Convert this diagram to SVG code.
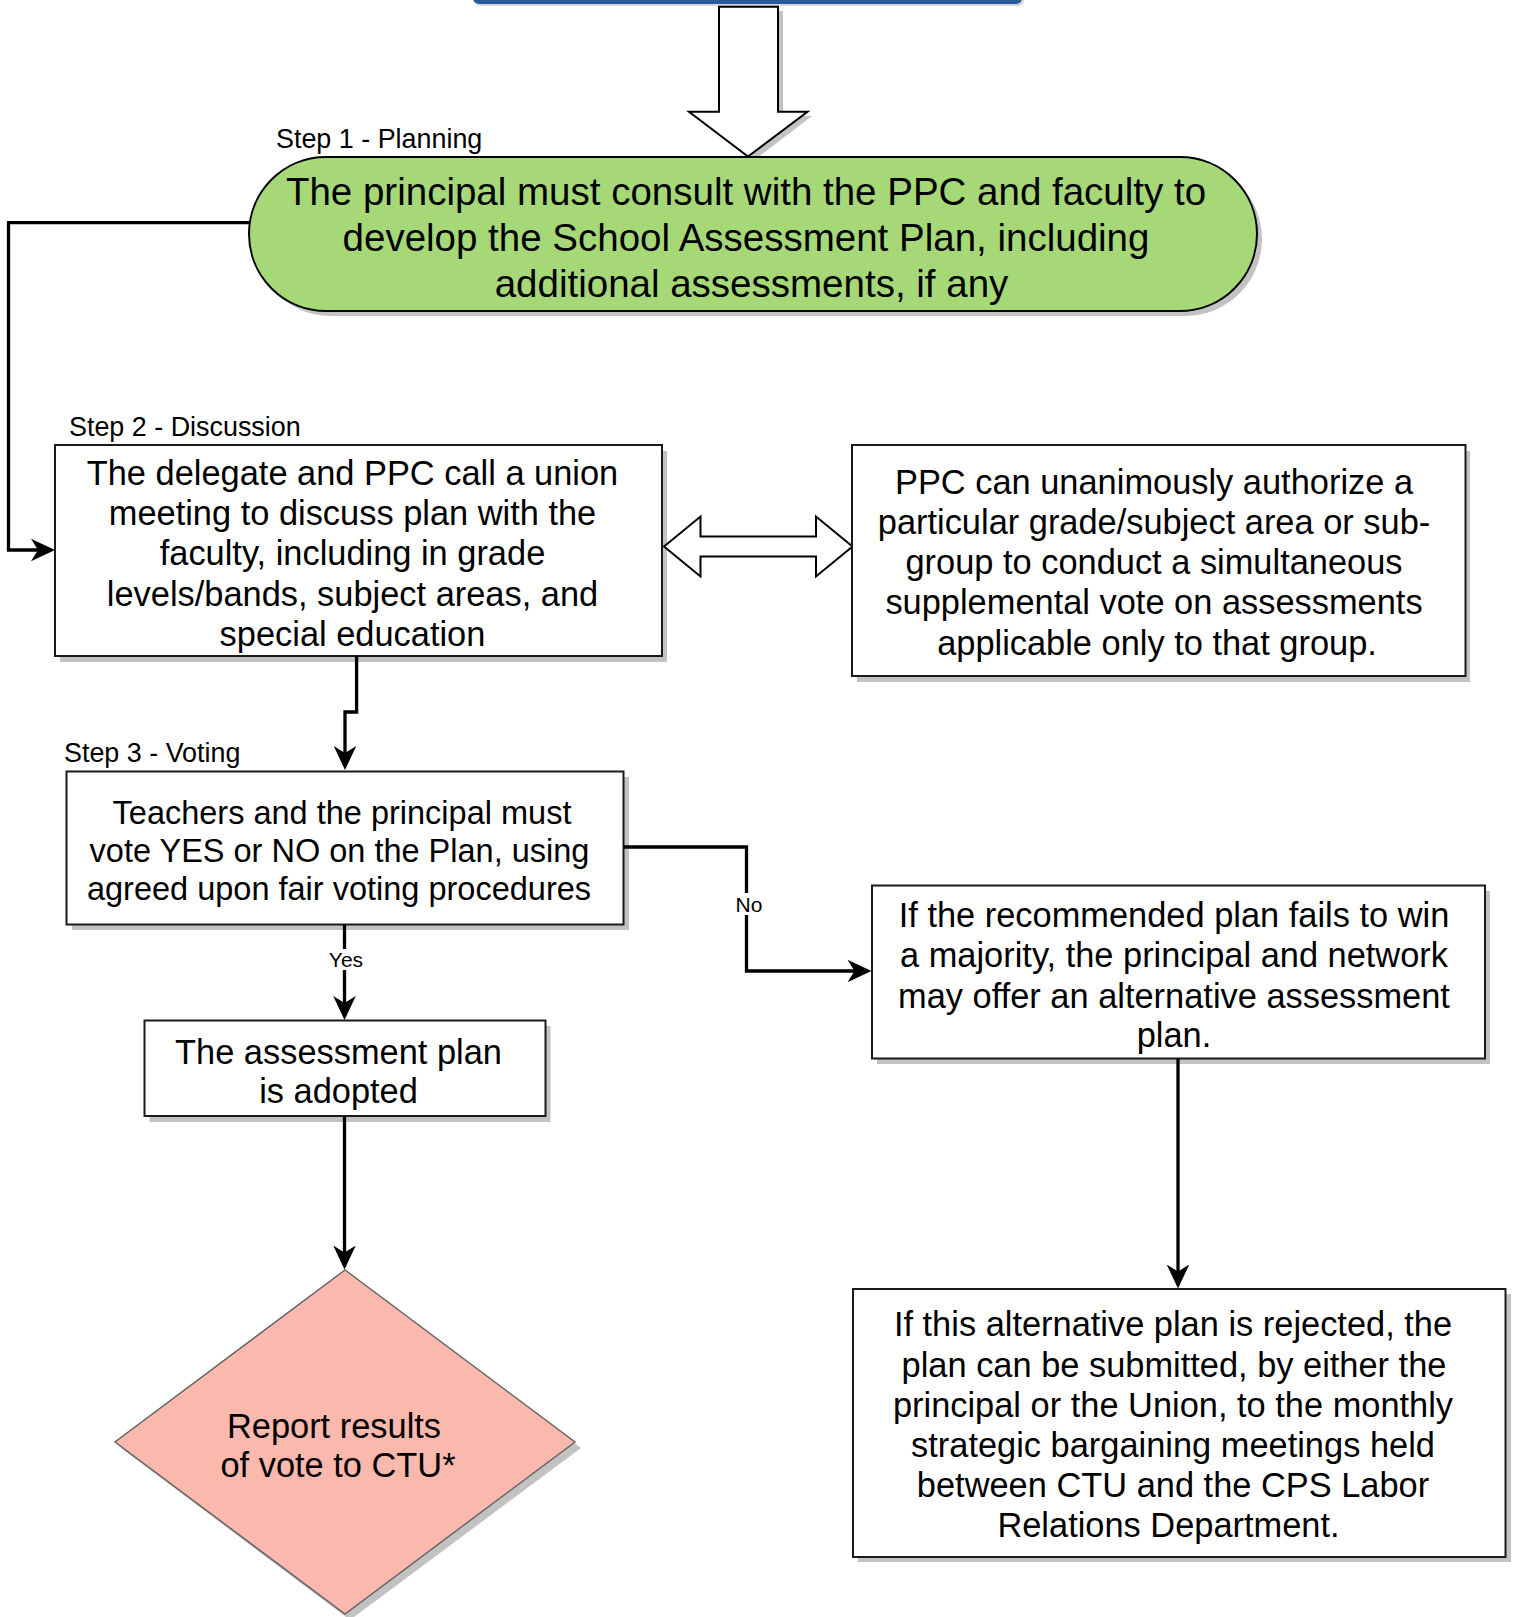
<svg xmlns="http://www.w3.org/2000/svg" width="1515" height="1617" viewBox="0 0 1515 1617">
<style>
text{font-family:"Liberation Sans",Arial,Helvetica,sans-serif;fill:#000;text-anchor:middle}
.lbl{font-size:26.9px;text-anchor:start}
.t34{font-size:34.4px}
.t38{font-size:38.5px}
.t32{font-size:32.5px}
.edge{font-size:21px}
.box{fill:#fff;stroke:#1a1a1a;stroke-width:2}
.sh{fill:#c2c2c2;stroke:none}
.con{fill:none;stroke:#000;stroke-width:3.3}
.blk{fill:#fff;stroke:#000;stroke-width:2;stroke-linejoin:miter}
</style>
<defs>
<marker id="arr" markerUnits="userSpaceOnUse" viewBox="0 0 24 24" markerWidth="24" markerHeight="24" refX="20" refY="12" orient="auto">
<path d="M24,12 L0,0.7 L7,12 L0,23.3 Z" fill="#000"/>
</marker>
</defs>

<g id="top-bar">
<rect x="475" y="-12" width="549" height="18" rx="6" fill="#d6d6d6"/>
<rect x="473" y="-14" width="549" height="18" rx="6" fill="#2a5a9a"/>
</g>

<g id="down-arrow">
<polygon class="sh" points="724,11 783,11 783,116 812,116 753,161 694,116 724,116"/>
<polygon class="blk" points="719,6.7 778,6.7 778,111.7 807.5,111.7 748,156.5 689,111.7 719,111.7"/>
</g>

<g id="step1">
<text class="lbl" x="276" y="148">Step 1 - Planning</text>
<rect class="sh" x="254" y="162" width="1008" height="154" rx="77"/>
<rect x="249" y="157" width="1008" height="154" rx="77" fill="#a6d877" stroke="#000" stroke-width="2"/>
<text class="t38" x="746" y="205">The principal must consult with the PPC and faculty to</text>
<text class="t38" x="746" y="251">develop the School Assessment Plan, including</text>
<text class="t38" x="751.5" y="297">additional assessments, if any</text>
</g>

<g id="step2">
<text class="lbl" x="69" y="436">Step 2 - Discussion</text>
<rect class="sh" x="60" y="451" width="607" height="211"/>
<rect class="box" x="55" y="445" width="607" height="211"/>
<text class="t34" x="352.5" y="485">The delegate and PPC call a union</text>
<text class="t34" x="352.5" y="525">meeting to discuss plan with the</text>
<text class="t34" x="352.5" y="565">faculty, including in grade</text>
<text class="t34" x="352.5" y="605.5">levels/bands, subject areas, and</text>
<text class="t34" x="352.5" y="645.5">special education</text>
</g>

<g id="double-arrow">
<polygon class="blk" points="664,546.5 700.5,516.5 700.5,536.5 816,536.5 816,516.5 852.5,546.5 816,576.5 816,556.5 700.5,556.5 700.5,576.5"/>
</g>

<g id="ppc-box">
<rect class="sh" x="857" y="451" width="613" height="231"/>
<rect class="box" x="852" y="445" width="613.5" height="231"/>
<text class="t34" x="1154" y="493.5">PPC can unanimously authorize a</text>
<text class="t34" x="1154" y="534">particular grade/subject area or sub-</text>
<text class="t34" x="1154" y="574">group to conduct a simultaneous</text>
<text class="t34" x="1154" y="614">supplemental vote on assessments</text>
<text class="t34" x="1157" y="654.5">applicable only to that group.</text>
</g>

<g id="step3">
<text class="lbl" x="64" y="761.5">Step 3 - Voting</text>
<rect class="sh" x="72" y="777" width="557" height="153"/>
<rect class="box" x="66.5" y="771.5" width="557" height="153"/>
<text class="t32" x="342" y="824">Teachers and the principal must</text>
<text class="t32" x="339.5" y="862">vote YES or NO on the Plan, using</text>
<text class="t32" x="339" y="900">agreed upon fair voting procedures</text>
</g>

<g id="adopted">
<rect class="sh" x="149.5" y="1026" width="401" height="96"/>
<rect class="box" x="144.5" y="1020.5" width="401" height="95.5"/>
<text class="t34" x="338.5" y="1063.5">The assessment plan</text>
<text class="t34" x="338.5" y="1102.5">is adopted</text>
</g>

<g id="alt-plan">
<rect class="sh" x="877" y="891" width="613" height="173"/>
<rect class="box" x="872" y="885.5" width="613" height="173"/>
<text class="t34" x="1174" y="927">If the recommended plan fails to win</text>
<text class="t34" x="1174" y="967">a majority, the principal and network</text>
<text class="t34" x="1174" y="1007.5">may offer an alternative assessment</text>
<text class="t34" x="1174" y="1047">plan.</text>
</g>

<g id="rejected">
<rect class="sh" x="858" y="1294" width="653" height="268"/>
<rect class="box" x="853" y="1289" width="652.5" height="268"/>
<text class="t34" x="1173" y="1336">If this alternative plan is rejected, the</text>
<text class="t34" x="1174" y="1376.5">plan can be submitted, by either the</text>
<text class="t34" x="1173" y="1416.5">principal or the Union, to the monthly</text>
<text class="t34" x="1173" y="1457">strategic bargaining meetings held</text>
<text class="t34" x="1173" y="1497">between CTU and the CPS Labor</text>
<text class="t34" x="1168.5" y="1537">Relations Department.</text>
</g>

<g id="report">
<polygon class="sh" points="350,1276 581,1448 350,1620 121,1448"/>
<polygon points="345,1270 575,1442 345,1614 115,1442" fill="#fbb9ae" stroke="#666" stroke-width="1.5"/>
<text class="t34" x="334" y="1437.5">Report results</text>
<text class="t34" x="338" y="1476.5">of vote to CTU*</text>
</g>

<g id="connectors">
<path class="con" d="M249,222.6 H8.5 V550 H51" marker-end="url(#arr)"/>
<path class="con" d="M356.6,656 V712 H345 V766" marker-end="url(#arr)"/>
<path class="con" d="M344.5,924.5 V1016" marker-end="url(#arr)"/>
<rect x="328" y="949" width="34" height="21" fill="#fff"/>
<text class="edge" x="346" y="966.5">Yes</text>
<path class="con" d="M623.5,847 H746.5 V971 H867.5" marker-end="url(#arr)"/>
<rect x="734" y="893" width="28" height="22" fill="#fff"/>
<text class="edge" x="749" y="911.5">No</text>
<path class="con" d="M344.5,1116 V1265.5" marker-end="url(#arr)"/>
<path class="con" d="M1178,1058.5 V1284.5" marker-end="url(#arr)"/>
</g>
</svg>
